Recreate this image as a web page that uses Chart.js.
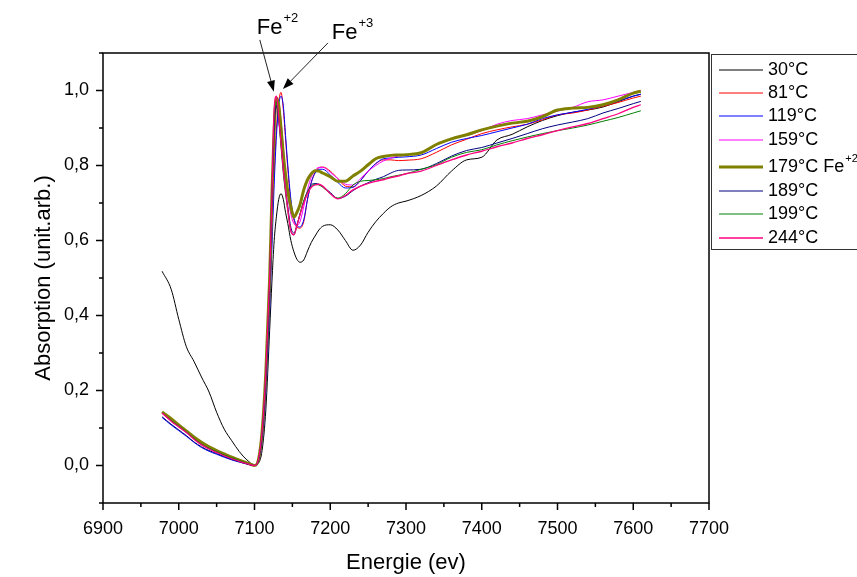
<!DOCTYPE html>
<html><head><meta charset="utf-8">
<script src="https://cdn.jsdelivr.net/npm/chart.js@4"></script>
<style>html,body{margin:0;padding:0;background:#fff;}canvas{display:block;}</style>
</head><body>
<canvas id="c" width="857" height="577"></canvas>
<script>
// ---- data ----
const energy = [6978, 6990, 7000, 7010, 7020, 7030, 7040, 7050, 7060, 7070, 7080, 7090,
 7100, 7105, 7110, 7115, 7120, 7123, 7126, 7129, 7132, 7135, 7138, 7141, 7144,
 7148, 7152, 7156, 7160, 7165, 7170, 7175, 7180, 7185, 7190,
 7200, 7210, 7220, 7230, 7240, 7250, 7260, 7270, 7280, 7290, 7300,
 7320, 7340, 7360, 7380, 7400, 7420, 7440, 7460, 7480, 7500,
 7520, 7540, 7560, 7580, 7600, 7610];

const abs30 = [0.518, 0.47, 0.39, 0.317, 0.278, 0.236, 0.196, 0.142, 0.097, 0.066, 0.037, 0.015,
 0.002, 0.006, 0.04, 0.15, 0.36, 0.49, 0.6, 0.665, 0.71, 0.725, 0.71, 0.675, 0.645,
 0.6, 0.57, 0.55, 0.542, 0.548, 0.572, 0.595, 0.612, 0.628, 0.638,
 0.642, 0.628, 0.6, 0.574, 0.588, 0.622, 0.65, 0.672, 0.69, 0.7, 0.705,
 0.72, 0.745, 0.785, 0.815, 0.822, 0.868, 0.883, 0.903, 0.92, 0.933,
 0.942, 0.948, 0.956, 0.97, 0.985, 0.99];

const abs81 = [0.14, 0.119, 0.104, 0.089, 0.071, 0.056, 0.045, 0.036, 0.027, 0.019, 0.012, 0.005,
 0.0, 0.01, 0.07, 0.21, 0.44, 0.62, 0.78, 0.9, 0.97, 0.995, 0.95, 0.87, 0.79,
 0.7, 0.655, 0.635, 0.633, 0.65, 0.71, 0.755, 0.782, 0.794, 0.796,
 0.785, 0.765, 0.745, 0.743, 0.76, 0.785, 0.805, 0.815, 0.815, 0.813, 0.814,
 0.818, 0.835, 0.855, 0.87, 0.885, 0.895, 0.903, 0.91, 0.922, 0.935,
 0.94, 0.948, 0.958, 0.968, 0.98, 0.985];

const abs119 = [0.128, 0.108, 0.093, 0.078, 0.062, 0.048, 0.038, 0.03, 0.022, 0.015, 0.009, 0.004,
 0.0, 0.008, 0.06, 0.19, 0.41, 0.58, 0.75, 0.88, 0.96, 0.985, 0.96, 0.88, 0.8,
 0.71, 0.66, 0.64, 0.636, 0.655, 0.71, 0.755, 0.78, 0.79, 0.79,
 0.775, 0.755, 0.74, 0.742, 0.76, 0.785, 0.805, 0.818, 0.82, 0.822, 0.823,
 0.828, 0.845, 0.862, 0.872, 0.88, 0.89, 0.9, 0.91, 0.925, 0.935,
 0.942, 0.95, 0.96, 0.972, 0.985, 0.99];

const abs159 = [0.14, 0.12, 0.105, 0.09, 0.073, 0.058, 0.047, 0.037, 0.028, 0.02, 0.012, 0.006,
 0.0, 0.014, 0.09, 0.24, 0.48, 0.68, 0.86, 0.955, 0.965, 0.92, 0.85, 0.78, 0.72,
 0.67, 0.645, 0.64, 0.65, 0.69, 0.735, 0.77, 0.787, 0.795, 0.795,
 0.782, 0.765, 0.75, 0.748, 0.765, 0.785, 0.8, 0.812, 0.82, 0.825, 0.828,
 0.835, 0.855, 0.872, 0.88, 0.893, 0.91, 0.92, 0.925, 0.935, 0.945,
 0.955, 0.97, 0.975, 0.985, 0.995, 1.0];

const abs179 = [0.143, 0.125, 0.108, 0.092, 0.076, 0.062, 0.05, 0.04, 0.031, 0.022, 0.014, 0.007,
 0.0, 0.014, 0.09, 0.25, 0.5, 0.72, 0.9, 0.98, 0.96, 0.9, 0.83, 0.775, 0.73,
 0.69, 0.662, 0.675, 0.695, 0.735, 0.762, 0.778, 0.786, 0.785, 0.78,
 0.77, 0.758, 0.758, 0.772, 0.785, 0.802, 0.818, 0.824, 0.827, 0.828, 0.829,
 0.834, 0.856, 0.871, 0.882, 0.895, 0.905, 0.913, 0.918, 0.93, 0.948,
 0.953, 0.955, 0.962, 0.975, 0.993, 0.998];

const abs189 = [0.13, 0.11, 0.095, 0.08, 0.063, 0.05, 0.04, 0.032, 0.024, 0.016, 0.01, 0.004,
 0.0, 0.012, 0.08, 0.23, 0.48, 0.7, 0.9, 0.96, 0.92, 0.86, 0.79, 0.735, 0.69,
 0.635, 0.62, 0.64, 0.67, 0.705, 0.73, 0.748, 0.752, 0.75, 0.744,
 0.728, 0.712, 0.718, 0.733, 0.745, 0.754, 0.763, 0.77, 0.78, 0.787, 0.788,
 0.79, 0.805, 0.825, 0.84, 0.848, 0.86, 0.872, 0.885, 0.898, 0.908,
 0.916, 0.925, 0.94, 0.952, 0.965, 0.971];

const abs199 = [0.14, 0.12, 0.105, 0.09, 0.072, 0.057, 0.046, 0.037, 0.028, 0.02, 0.013, 0.006,
 0.0, 0.015, 0.09, 0.25, 0.5, 0.73, 0.93, 0.97, 0.92, 0.85, 0.78, 0.725, 0.68,
 0.625, 0.615, 0.64, 0.67, 0.705, 0.73, 0.745, 0.75, 0.748, 0.742,
 0.725, 0.713, 0.725, 0.748, 0.758, 0.76, 0.762, 0.765, 0.77, 0.774, 0.778,
 0.79, 0.802, 0.822, 0.835, 0.842, 0.855, 0.866, 0.876, 0.885, 0.893,
 0.9, 0.908, 0.918, 0.928, 0.94, 0.946];

const abs244 = [0.14, 0.118, 0.103, 0.088, 0.07, 0.055, 0.044, 0.035, 0.026, 0.018, 0.011, 0.005,
 0.0, 0.015, 0.09, 0.25, 0.5, 0.72, 0.95, 0.985, 0.93, 0.86, 0.79, 0.735, 0.68,
 0.625, 0.615, 0.64, 0.668, 0.7, 0.725, 0.742, 0.748, 0.75, 0.745,
 0.725, 0.711, 0.72, 0.735, 0.745, 0.752, 0.758, 0.762, 0.768, 0.772, 0.778,
 0.785, 0.8, 0.815, 0.828, 0.838, 0.85, 0.86, 0.872, 0.882, 0.893,
 0.903, 0.912, 0.925, 0.938, 0.955, 0.962];

const seriesLabels = ['30°C', '81°C', '119°C', '159°C', '179°C Fe+2', '189°C', '199°C', '244°C'];
const seriesValues = [abs30, abs81, abs119, abs159, abs179, abs189, abs199, abs244];

// annotation anchors (data units)
const annotations = [
  {base: 'Fe', sup: '+2', textE: 7103, textA: 1.167, tailE: 7107, tailA: 1.135, tipE: 7125.5, tipA: 0.997},
  {base: 'Fe', sup: '+3', textE: 7202, textA: 1.153, tailE: 7197, tailA: 1.127, tipE: 7137.5, tipA: 1.004}
];

// ---- styles ----
const seriesColors = ['#000000', '#ff0000', '#0000ff', '#ff00ff', '#808000', '#000080', '#008000', '#ff0080'];
const seriesWidths = [1, 1, 1, 1, 3, 1, 1, 1.3];
const FONT = '"Liberation Sans", Arial, sans-serif';

const datasets = seriesLabels.map((lab, i) => ({
  label: lab,
  data: energy.map((e, k) => ({x: e, y: seriesValues[i][k]})),
  borderColor: seriesColors[i],
  backgroundColor: seriesColors[i],
  borderWidth: seriesWidths[i],
  pointRadius: 0,
  fill: false,
  cubicInterpolationMode: 'monotone',
  order: seriesLabels.length - i
}));

function drawSuperText(ctx, base, sup, x, y, size, supSize) {
  ctx.textAlign = 'left';
  ctx.textBaseline = 'middle';
  ctx.font = size + 'px ' + FONT;
  ctx.fillText(base, x, y);
  const w = ctx.measureText(base).width;
  ctx.font = supSize + 'px ' + FONT;
  ctx.fillText(sup, x + w + 1, y - size * 0.42);
}

const decorPlugin = {
  id: 'decor',
  afterDraw(chart) {
    const {ctx, chartArea: a, scales: {x, y}} = chart;
    ctx.save();
    // frame
    ctx.strokeStyle = '#000';
    ctx.lineWidth = 1.5;
    ctx.strokeRect(a.left, a.top, a.right - a.left, a.bottom - a.top);
    // ticks
    ctx.beginPath();
    x.ticks.forEach(t => {
      const px = x.getPixelForValue(t.value);
      const major = Math.round(t.value) % 100 === 0;
      ctx.moveTo(px, a.bottom);
      ctx.lineTo(px, a.bottom + (major ? 7 : 4));
    });
    y.ticks.forEach(t => {
      const py = y.getPixelForValue(t.value);
      const major = Math.round(t.value * 10) % 2 === 0;
      ctx.moveTo(a.left, py);
      ctx.lineTo(a.left - (major ? 7 : 4), py);
    });
    ctx.stroke();

    // legend box
    const lx = a.right + 2, ly = a.top + 1;
    ctx.lineWidth = 1;
    ctx.strokeStyle = '#333';
    ctx.strokeRect(lx + 0.5, ly + 0.5, chart.width, 195);
    const rowY = [70, 93, 116, 140, 167, 191, 214, 238];
    chart.data.datasets.forEach((ds, i) => {
      const yy = rowY[i];
      ctx.beginPath();
      ctx.strokeStyle = ds.borderColor;
      ctx.lineWidth = ds.borderWidth;
      ctx.moveTo(lx + 8, yy);
      ctx.lineTo(lx + 52, yy);
      ctx.stroke();
      ctx.fillStyle = '#000';
      const m = ds.label.match(/^(.*Fe)(\+\d)$/);
      if (m) {
        drawSuperText(ctx, m[1], m[2], lx + 57, yy, 18, 11);
      } else {
        ctx.font = '18px ' + FONT;
        ctx.textAlign = 'left';
        ctx.textBaseline = 'middle';
        ctx.fillText(ds.label, lx + 57, yy);
      }
    });

    // annotations
    ctx.fillStyle = '#000';
    annotations.forEach(an => {
      const tx = x.getPixelForValue(an.textE), ty = y.getPixelForValue(an.textA);
      drawSuperText(ctx, an.base, an.sup, tx, ty, 22, 13);
      const x0 = x.getPixelForValue(an.tailE), y0 = y.getPixelForValue(an.tailA);
      const x1 = x.getPixelForValue(an.tipE), y1 = y.getPixelForValue(an.tipA);
      const ang = Math.atan2(y1 - y0, x1 - x0);
      const L = 11, W = 4;
      ctx.strokeStyle = '#222';
      ctx.lineWidth = 1;
      ctx.beginPath();
      ctx.moveTo(x0, y0);
      ctx.lineTo(x1 - L * Math.cos(ang), y1 - L * Math.sin(ang));
      ctx.stroke();
      ctx.beginPath();
      ctx.moveTo(x1, y1);
      ctx.lineTo(x1 - L * Math.cos(ang) + W * Math.sin(ang), y1 - L * Math.sin(ang) - W * Math.cos(ang));
      ctx.lineTo(x1 - L * Math.cos(ang) - W * Math.sin(ang), y1 - L * Math.sin(ang) + W * Math.cos(ang));
      ctx.closePath();
      ctx.fill();
    });
    ctx.restore();
  }
};

new Chart(document.getElementById('c'), {
  type: 'line',
  data: {datasets},
  options: {
    responsive: false,
    animation: false,
    devicePixelRatio: 1,
    layout: {padding: {top: 53, right: 148, left: 0, bottom: 0}},
    plugins: {legend: {display: false}, tooltip: {enabled: false}},
    scales: {
      x: {
        type: 'linear', min: 6900, max: 7700,
        afterFit: s => { s.height = 74; },
        ticks: {
          stepSize: 50, autoSkip: false, maxRotation: 0, padding: 7,
          color: '#000', font: {family: FONT, size: 18},
          callback: v => (Math.round(v) % 100 === 0 ? String(Math.round(v)) : '')
        },
        grid: {drawOnChartArea: false, tickLength: 8, tickColor: 'rgba(0,0,0,0)'},
        border: {display: false},
        title: {display: true, text: 'Energie (ev)', color: '#000', font: {family: FONT, size: 22}, padding: {top: 0, bottom: 1}}
      },
      y: {
        min: -0.1, max: 1.1,
        afterFit: s => { s.width = 103; },
        ticks: {
          stepSize: 0.1, autoSkip: false, padding: 7,
          color: '#000', font: {family: FONT, size: 18},
          callback: v => { const k = Math.round(v * 10); return (k % 2 === 0 && k >= 0 && k <= 10) ? (k / 10).toFixed(1).replace('.', ',') : ''; }
        },
        grid: {drawOnChartArea: false, tickLength: 7, tickColor: 'rgba(0,0,0,0)'},
        border: {display: false},
        title: {display: true, text: 'Absorption (unit.arb.)', color: '#000', font: {family: FONT, size: 22}, padding: {top: 31, bottom: 0}}
      }
    }
  },
  plugins: [decorPlugin]
});
</script>
</body></html>
